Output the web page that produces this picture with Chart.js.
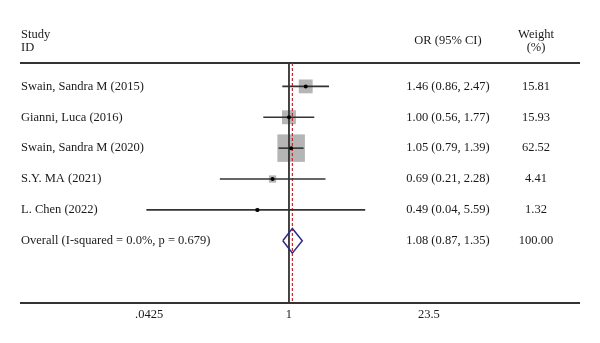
<!DOCTYPE html>
<html>
<head>
<meta charset="utf-8">
<script src="https://cdn.jsdelivr.net/npm/chart.js@4"></script>
<style>
  html, body { margin: 0; padding: 0; background: #fff; }
  #wrap { width: 600px; height: 343px; position: relative; }
</style>
</head>
<body>
<div id="wrap"><canvas id="forest"></canvas></div>
<script>
// ---------- DATA ----------
const studies = ["Swain, Sandra M (2015)", "Gianni, Luca (2016)", "Swain, Sandra M (2020)", "S.Y. MA (2021)", "L. Chen (2022)"];
const oddsRatios = [1.46, 1.00, 1.05, 0.69, 0.49];
const lowerCI = [0.86, 0.56, 0.79, 0.21, 0.04];
const upperCI = [2.47, 1.77, 1.39, 2.28, 5.59];
const weights = [15.81, 15.93, 62.52, 4.41, 1.32];

const overallLabel = "Overall (I-squared = 0.0%, p = 0.679)";
const overallOR = 1.08;
const overallLower = 0.87;
const overallUpper = 1.35;
const overallWeight = 100.00;

const tickValues = [0.0425, 1, 23.5];
const tickLabels = [".0425", "1", "23.5"];

// ---------- LAYOUT ----------
const X_MIN = 0.00236, X_MAX = 697;
const Y_MIN = 0.242, Y_MAX = 8.016;
const overallRow = studies.length + 1;
const FONT = "12.5px 'Liberation Serif', 'DejaVu Serif', serif";
const LINE = "#333333";

const fmt = (v) => v.toFixed(2);

// ---------- DATASETS ----------
const dots = {
  data: studies.map((s, i) => ({ x: oddsRatios[i], y: i + 1 })),
  pointRadius: 2,
  backgroundColor: "#000",
  borderWidth: 0,
  order: 1,
};

const ciLines = studies.map((s, i) => ({
  data: [{ x: lowerCI[i], y: i + 1 }, { x: upperCI[i], y: i + 1 }],
  showLine: true,
  borderColor: LINE,
  borderWidth: 1.6,
  pointRadius: 0,
  order: 2,
}));

const diamondHalf = 0.4;
const diamond = {
  data: [
    { x: overallLower, y: overallRow },
    { x: overallOR, y: overallRow - diamondHalf },
    { x: overallUpper, y: overallRow },
    { x: overallOR, y: overallRow + diamondHalf },
    { x: overallLower, y: overallRow },
  ],
  showLine: true,
  borderColor: "#2b2a86",
  borderWidth: 1.5,
  pointRadius: 0,
  fill: false,
  order: 3,
};

const nullLine = {
  data: [{ x: 1, y: Y_MIN }, { x: 1, y: Y_MAX }],
  showLine: true,
  borderColor: LINE,
  borderWidth: 1.8,
  pointRadius: 0,
  order: 4,
};

const overallLine = {
  data: [{ x: overallOR, y: Y_MIN }, { x: overallOR, y: Y_MAX }],
  showLine: true,
  borderColor: "#c4282d",
  borderWidth: 1.2,
  borderDash: [3, 2],
  pointRadius: 0,
  order: 4,
};

const boxes = {
  data: studies.map((s, i) => ({ x: oddsRatios[i], y: i + 1 })),
  pointStyle: "rect",
  pointRadius: weights.map((w) => 2.46 * Math.sqrt(w)),
  backgroundColor: "#b5b5b5",
  borderWidth: 0,
  order: 5,
};

// ---------- TEXT COLUMNS ----------
const textColumns = {
  id: "textColumns",
  afterDraw(chart) {
    const { ctx, chartArea, scales } = chart;
    const y = scales.y;
    ctx.save();
    ctx.font = FONT;
    ctx.fillStyle = "#1a1a1a";
    ctx.textBaseline = "middle";

    // headers
    ctx.textAlign = "left";
    ctx.fillText("Study", chartArea.left, 35);
    ctx.fillText("ID", chartArea.left, 48);
    ctx.textAlign = "center";
    ctx.fillText("OR (95% CI)", 448, 41);
    ctx.fillText("Weight", 536, 35);
    ctx.fillText("(%)", 536, 48);

    // rows
    studies.forEach((s, i) => {
      const py = y.getPixelForValue(i + 1);
      ctx.textAlign = "left";
      ctx.fillText(s, chartArea.left, py);
      ctx.textAlign = "center";
      ctx.fillText(`${fmt(oddsRatios[i])} (${fmt(lowerCI[i])}, ${fmt(upperCI[i])})`, 448, py);
      ctx.fillText(fmt(weights[i]), 536, py);
    });

    const oy = y.getPixelForValue(overallRow);
    ctx.textAlign = "left";
    ctx.fillText(overallLabel, chartArea.left, oy);
    ctx.textAlign = "center";
    ctx.fillText(`${fmt(overallOR)} (${fmt(overallLower)}, ${fmt(overallUpper)})`, 448, oy);
    ctx.fillText(fmt(overallWeight), 536, oy);
    ctx.restore();
  },
};

// ---------- CHART ----------
new Chart(document.getElementById("forest"), {
  type: "scatter",
  data: { datasets: [dots, ...ciLines, diamond, nullLine, overallLine, boxes] },
  options: {
    responsive: true,
    maintainAspectRatio: false,
    animation: false,
    layout: { padding: { left: 21, right: 21, top: 63, bottom: 17 } },
    plugins: { legend: { display: false }, tooltip: { enabled: false } },
    scales: {
      x: {
        type: "logarithmic",
        position: "bottom",
        min: X_MIN,
        max: X_MAX,
        bounds: "data",
        grid: { display: false, drawTicks: false },
        border: { display: true, color: LINE, width: 2 },
        afterBuildTicks: (axis) => { axis.ticks = tickValues.map((v) => ({ value: v })); },
        ticks: {
          padding: 4,
          color: "#1a1a1a",
          font: { family: "'Liberation Serif', serif", size: 12.5 },
          callback: (v) => tickLabels[tickValues.indexOf(v)],
          maxRotation: 0,
          autoSkip: false,
        },
      },
      xTop: {
        type: "logarithmic",
        position: "top",
        min: X_MIN,
        max: X_MAX,
        bounds: "data",
        grid: { display: false, drawTicks: false },
        border: { display: true, color: LINE, width: 2 },
        ticks: { display: false },
      },
      y: {
        type: "linear",
        reverse: true,
        min: Y_MIN,
        max: Y_MAX,
        display: false,
      },
    },
  },
  plugins: [textColumns],
});
</script>
</body>
</html>
